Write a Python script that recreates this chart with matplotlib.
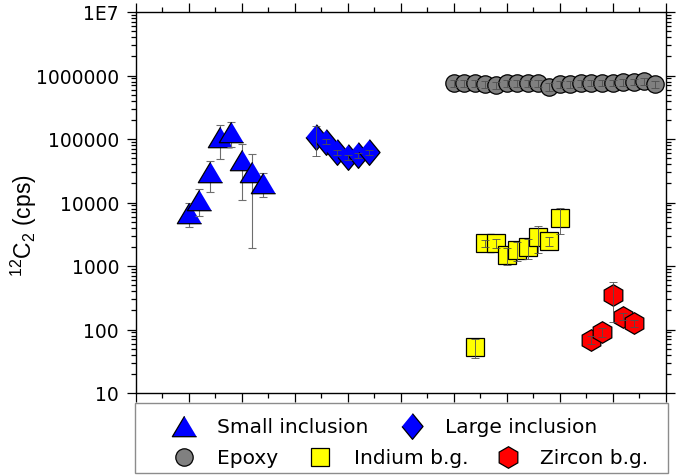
import matplotlib
matplotlib.use('Agg')
import matplotlib.pyplot as plt
from matplotlib.ticker import FixedLocator, FuncFormatter, NullFormatter, LogLocator, MultipleLocator
from matplotlib.lines import Line2D
from matplotlib.patches import Rectangle

plt.rcParams['font.family'] = ['DejaVu Sans']
plt.rcParams['mathtext.fontset'] = 'custom'
plt.rcParams['mathtext.rm'] = 'Liberation Sans'
plt.rcParams['mathtext.it'] = 'Liberation Sans'

# ---------------- data ----------------
small_x = [5, 6, 7, 8, 9, 10, 11, 12]
small_y = [6900, 11100, 30200, 108000, 130000, 47000, 29900, 20500]
small_err = [2800, 5000, 15500, 60000, 55000, 36000, 28000, 8400]

large_x = [17, 18, 19, 20, 21, 22]
large_y = [106000, 90600, 61800, 51500, 56000, 61800]
large_err = [52000, 8000, 6000, 5000, 5000, 5000]

epoxy_x = [30, 31, 32, 33, 34, 35, 36, 37, 38, 39, 40, 41, 42, 43, 44, 45, 46, 47, 48, 49]
epoxy_y = [754000, 754000, 754000, 735000, 708000, 754000, 754000, 754000, 754000, 667000,
           735000, 735000, 754000, 762000, 762000, 762000, 782000, 799000, 811000, 735000]
epoxy_err = [90000, 90000, 90000, 90000, 90000, 90000, 90000, 90000, 90000, 90000,
             90000, 90000, 90000, 90000, 90000, 90000, 90000, 90000, 90000, 90000]

indium_x = [32, 33, 34, 35, 36, 37, 38, 39, 40]
indium_y = [53, 2280, 2300, 1490, 1810, 2010, 2890, 2500, 5700]
indium_err = [18, 300, 400, 450, 600, 700, 1300, 400, 2500]

zircon_x = [43, 44, 45, 46, 47]
zircon_y = [69, 92, 349, 159, 125]
zircon_err = [10, 15, 217, 20, 15]

ytick_vals = [10, 100, 1000, 10000, 100000, 1000000, 10000000]
ytick_labels = ['10', '100', '1000', '10000', '100000', '1000000', '1E7']

legend_labels = ['Small inclusion', 'Large inclusion', 'Epoxy', 'Indium b.g.', 'Zircon b.g.']

# ---------------- styles ----------------
W, H = 677, 477
fig = plt.figure(figsize=(W / 100, H / 100), dpi=100)
ax = fig.add_axes([135.7 / W, 1 - 394 / H, (665.5 - 135.7) / W, (394 - 13) / H])

tri = [(0, 0.42), (-0.5, -0.42), (0.5, -0.42)]
dia = [(0, 1), (0.82, 0), (0, -1), (-0.82, 0)]

styles = {
    'small': dict(marker=tri, ms=17.5, mfc='#0000FF'),
    'large': dict(marker=dia, ms=18.5, mfc='#0000FF'),
    'epoxy': dict(marker='o', ms=12.5, mfc='#808080'),
    'indium': dict(marker='s', ms=13, mfc='#FFFF00'),
    'zircon': dict(marker='h', ms=15.5, mfc='#FF0000'),
}
common = dict(mec='black', mew=0.9, ls='none')
ecol = '#6e6e6e'

# small inclusion: interleave error bar / marker so later markers cover earlier bars
for i, (x, y, e) in enumerate(zip(small_x, small_y, small_err)):
    ax.errorbar([x], [y], yerr=[e], fmt='none', ecolor=ecol, elinewidth=0.8,
                capsize=3, capthick=0.8, zorder=2 + 2 * i)
    ax.plot([x], [y], zorder=3 + 2 * i, **styles['small'], **common)

for key, xs, ys, es in [('large', large_x, large_y, large_err),
                        ('epoxy', epoxy_x, epoxy_y, epoxy_err),
                        ('indium', indium_x, indium_y, indium_err),
                        ('zircon', zircon_x, zircon_y, zircon_err)]:
    ax.plot(xs, ys, zorder=30, **styles[key], **common)
    ax.errorbar(xs, ys, yerr=es, fmt='none', ecolor='#505050', elinewidth=0.6,
                capsize=3, capthick=0.6, zorder=31)

# ---------------- axes ----------------
ax.set_yscale('log')
ax.set_ylim(10, 1e7)
ax.set_xlim(0, 50)
ax.yaxis.set_major_locator(FixedLocator(ytick_vals))
ax.yaxis.set_major_formatter(FuncFormatter(lambda v, p: ytick_labels[ytick_vals.index(int(round(v)))] if int(round(v)) in ytick_vals else ''))
ax.yaxis.set_minor_locator(LogLocator(base=10, subs=[2, 3, 4, 5, 6, 7, 8, 9], numticks=20))
ax.yaxis.set_minor_formatter(NullFormatter())
ax.xaxis.set_major_locator(MultipleLocator(5))
ax.xaxis.set_minor_locator(MultipleLocator(2.5))
ax.xaxis.set_major_formatter(NullFormatter())

ax.tick_params(which='both', direction='out', top=True, right=True, width=0.9, color='black')
ax.tick_params(which='major', length=6.5)
ax.tick_params(which='minor', length=3.5)
ax.tick_params(axis='y', which='major', labelsize=13.5, pad=5.5)
ax.tick_params(axis='x', labelbottom=False)
for s in ax.spines.values():
    s.set_linewidth(1.0)

ax.set_ylabel(r'$^{12}$C$_{2}$ (cps)', fontsize=16.5, family='Liberation Sans')
ax.yaxis.set_label_coords(-0.183, 0.441)

# ---------------- legend (drawn manually) ----------------
def fx(px):
    return px / W

def fy(py):
    return 1 - py / H

fig.add_artist(Rectangle((fx(135), fy(474)), (668 - 135) / W, (474 - 404) / H,
                         transform=fig.transFigure, fill=False, edgecolor='#8c8c8c', lw=1.0))

leg_items = [('small', 184, 426.5, 217, 433.3, legend_labels[0]),
             ('large', 412, 426.5, 445, 433.3, legend_labels[1]),
             ('epoxy', 184, 457.5, 217, 464.3, legend_labels[2]),
             ('indium', 320, 457.5, 354, 464.3, legend_labels[3]),
             ('zircon', 508, 457.5, 540, 464.3, legend_labels[4])]
for key, mx, my, tx, ty, lab in leg_items:
    fig.add_artist(Line2D([fx(mx)], [fy(my)], transform=fig.transFigure, **styles[key], **common))
    fig.text(fx(tx), fy(ty), lab, fontsize=14.5, ha='left', va='baseline')

fig.savefig('out.png', dpi=100)
